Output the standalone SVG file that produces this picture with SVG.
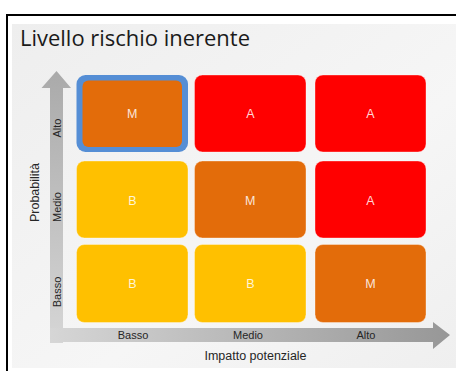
<svg xmlns="http://www.w3.org/2000/svg" width="456" height="371" viewBox="0 0 456 371">
<defs>
<linearGradient id="bg" x1="0" y1="0" x2="1" y2="1">
<stop offset="0" stop-color="#eeeeee"/>
<stop offset="0.6" stop-color="#f6f6f6"/>
<stop offset="1" stop-color="#efefef"/>
</linearGradient>
<linearGradient id="vgr" x1="0" y1="1" x2="0" y2="0">
<stop offset="0" stop-color="#d6d6d6"/>
<stop offset="1" stop-color="#aaaaaa"/>
</linearGradient>
<linearGradient id="hgr" x1="0" y1="0" x2="1" y2="0">
<stop offset="0" stop-color="#d6d6d6"/>
<stop offset="1" stop-color="#979797"/>
</linearGradient>
</defs>
<style>
.cell{stroke:#ffffff;stroke-opacity:0.35;stroke-width:1}
.o{fill:#E36C0A}
.r{fill:#FF0000}
.y{fill:#FFC000}
.lbl{font-family:"Liberation Sans",Arial,sans-serif;font-size:12.5px;fill:#ffffff;fill-opacity:0.85;text-anchor:middle}
.ax{font-family:"Liberation Sans",Arial,sans-serif;font-size:11px;fill:#262626;text-anchor:middle}
.at{font-family:"Liberation Sans",Arial,sans-serif;font-size:12.5px;fill:#262626;text-anchor:middle}
</style>
<rect x="0" y="0" width="456" height="371" fill="#ffffff"/>
<rect x="12" y="24" width="444" height="344" fill="url(#bg)"/>
<path d="M7,371 V15 H456" fill="none" stroke="#000000" stroke-width="2"/>
<text x="20" y="46" font-family="'Open Sans','Liberation Sans',sans-serif" font-size="22" fill="#1a1a1a" textLength="230" lengthAdjust="spacingAndGlyphs">Livello rischio inerente</text>

<g id="connectors">
<polygon points="50,343 50,88 41.5,88 56.5,71 71,88 63,88 63,343" fill="url(#vgr)"/>
<polygon points="50,328 433,328 433,322 450,335 433,349 433,342 50,342" fill="url(#hgr)"/>
</g>

<g id="axis-y">
<text class="at" transform="translate(38.5,192.5) rotate(-90)">Probabilità</text>
<text class="ax" transform="translate(61.3,128) rotate(-90)">Alto</text>
<text class="ax" transform="translate(61.3,207) rotate(-90)">Medio</text>
<text class="ax" transform="translate(61.3,292) rotate(-90)">Basso</text>
</g>
<g id="axis-x">
<text class="ax" x="133" y="339">Basso</text>
<text class="ax" x="248" y="339">Medio</text>
<text class="ax" x="366" y="339">Alto</text>
<text class="at" x="255.5" y="360">Impatto potenziale</text>
</g>

<g id="cell-r1c1">
<rect x="76.5" y="75" width="111.5" height="77" rx="9" fill="#558ED5"/>
<rect x="82.5" y="80.5" width="99.5" height="66.5" rx="6" class="o"/>
<text class="lbl" x="132.3" y="118">M</text>
</g>
<g id="cell-r1c2">
<rect x="194.5" y="75" width="111.5" height="77" rx="8" class="cell r"/>
<text class="lbl" x="250.3" y="118">A</text>
</g>
<g id="cell-r1c3">
<rect x="315" y="75" width="111" height="77" rx="8" class="cell r"/>
<text class="lbl" x="370.5" y="118">A</text>
</g>
<g id="cell-r2c1">
<rect x="76.5" y="161" width="111.5" height="77" rx="8" class="cell y"/>
<text class="lbl" x="132.3" y="204.5">B</text>
</g>
<g id="cell-r2c2">
<rect x="194.5" y="161" width="111.5" height="77" rx="8" class="cell o"/>
<text class="lbl" x="250.3" y="204.5">M</text>
</g>
<g id="cell-r2c3">
<rect x="315" y="161" width="111" height="77" rx="8" class="cell r"/>
<text class="lbl" x="370.5" y="204.5">A</text>
</g>
<g id="cell-r3c1">
<rect x="76.5" y="244.5" width="111.5" height="78" rx="8" class="cell y"/>
<text class="lbl" x="132.3" y="288">B</text>
</g>
<g id="cell-r3c2">
<rect x="194.5" y="244.5" width="111.5" height="78" rx="8" class="cell y"/>
<text class="lbl" x="250.3" y="288">B</text>
</g>
<g id="cell-r3c3">
<rect x="315" y="244.5" width="111" height="78" rx="8" class="cell o"/>
<text class="lbl" x="370.5" y="288">M</text>
</g>
</svg>
